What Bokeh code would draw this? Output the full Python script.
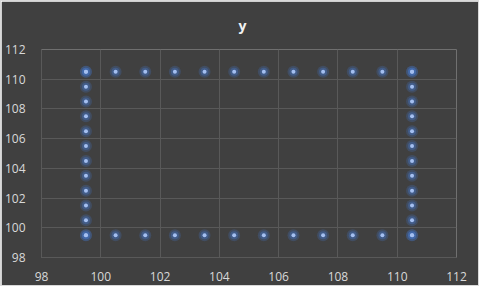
from bokeh.plotting import figure
from bokeh.embed import file_html
from bokeh.resources import INLINE
from bokeh.models import FixedTicker, Range1d

# Data (series "y")
bottom_x = [99.5, 100.5, 101.5, 102.5, 103.5, 104.5, 105.5, 106.5, 107.5, 108.5, 109.5, 110.5]
bottom_y = [99.5] * 12
right_x = [110.5] * 12
right_y = [99.5, 100.5, 101.5, 102.5, 103.5, 104.5, 105.5, 106.5, 107.5, 108.5, 109.5, 110.5]
top_x = [110.5, 109.5, 108.5, 107.5, 106.5, 105.5, 104.5, 103.5, 102.5, 101.5, 100.5, 99.5]
top_y = [110.5] * 12
left_x = [99.5] * 12
left_y = [110.5, 109.5, 108.5, 107.5, 106.5, 105.5, 104.5, 103.5, 102.5, 101.5, 100.5, 99.5]

xs = bottom_x + right_x + top_x + left_x
ys = bottom_y + right_y + top_y + left_y

x_ticks = [98, 100, 102, 104, 106, 108, 110, 112]
y_ticks = [98, 100, 102, 104, 106, 108, 110, 112]

BG = "#404040"
GRID = "#595959"
TXT = "#d9d9d9"

p = figure(width=479, height=286, output_backend="svg", toolbar_location=None,
           x_range=Range1d(98, 112), y_range=Range1d(98, 112),
           title="y", min_border_left=38, min_border_right=24,
           min_border_top=48, min_border_bottom=30)
p.styles = {"border": "1px solid #d9d9d9"}
p.background_fill_color = BG
p.border_fill_color = BG
p.outline_line_color = None

p.title.align = "left"
p.title.offset = 197
p.title.vertical_align = "top"
p.title.text_color = "#f2f2f2"
p.title.text_font = "Open Sans"
p.title.text_font_size = "14px"
p.title.text_font_style = "bold"
p.title.standoff = 26

for ax, ticks in ((p.xaxis[0], x_ticks), (p.yaxis[0], y_ticks)):
    ax.ticker = FixedTicker(ticks=ticks)
    ax.axis_line_color = GRID
    ax.major_tick_line_color = None
    ax.minor_tick_line_color = None
    ax.major_label_text_color = TXT
    ax.major_label_text_font = "Open Sans"
    ax.major_label_text_font_size = "12px"
p.xaxis.major_label_standoff = 8
p.yaxis.major_label_standoff = 10

p.xgrid.ticker = FixedTicker(ticks=x_ticks)
p.ygrid.ticker = FixedTicker(ticks=y_ticks)
p.grid.grid_line_color = GRID
p.grid.grid_line_width = 1

# glow
p.scatter(xs, ys, size=12, fill_color="#4472c4", fill_alpha=0.25, line_color=None)
p.scatter(xs, ys, size=8, fill_color="#4472c4", fill_alpha=0.4, line_color=None)
p.scatter(xs, ys, size=4, fill_color="#a4bff0", line_color=None)

open("out.html", "w").write(file_html(p, INLINE))
